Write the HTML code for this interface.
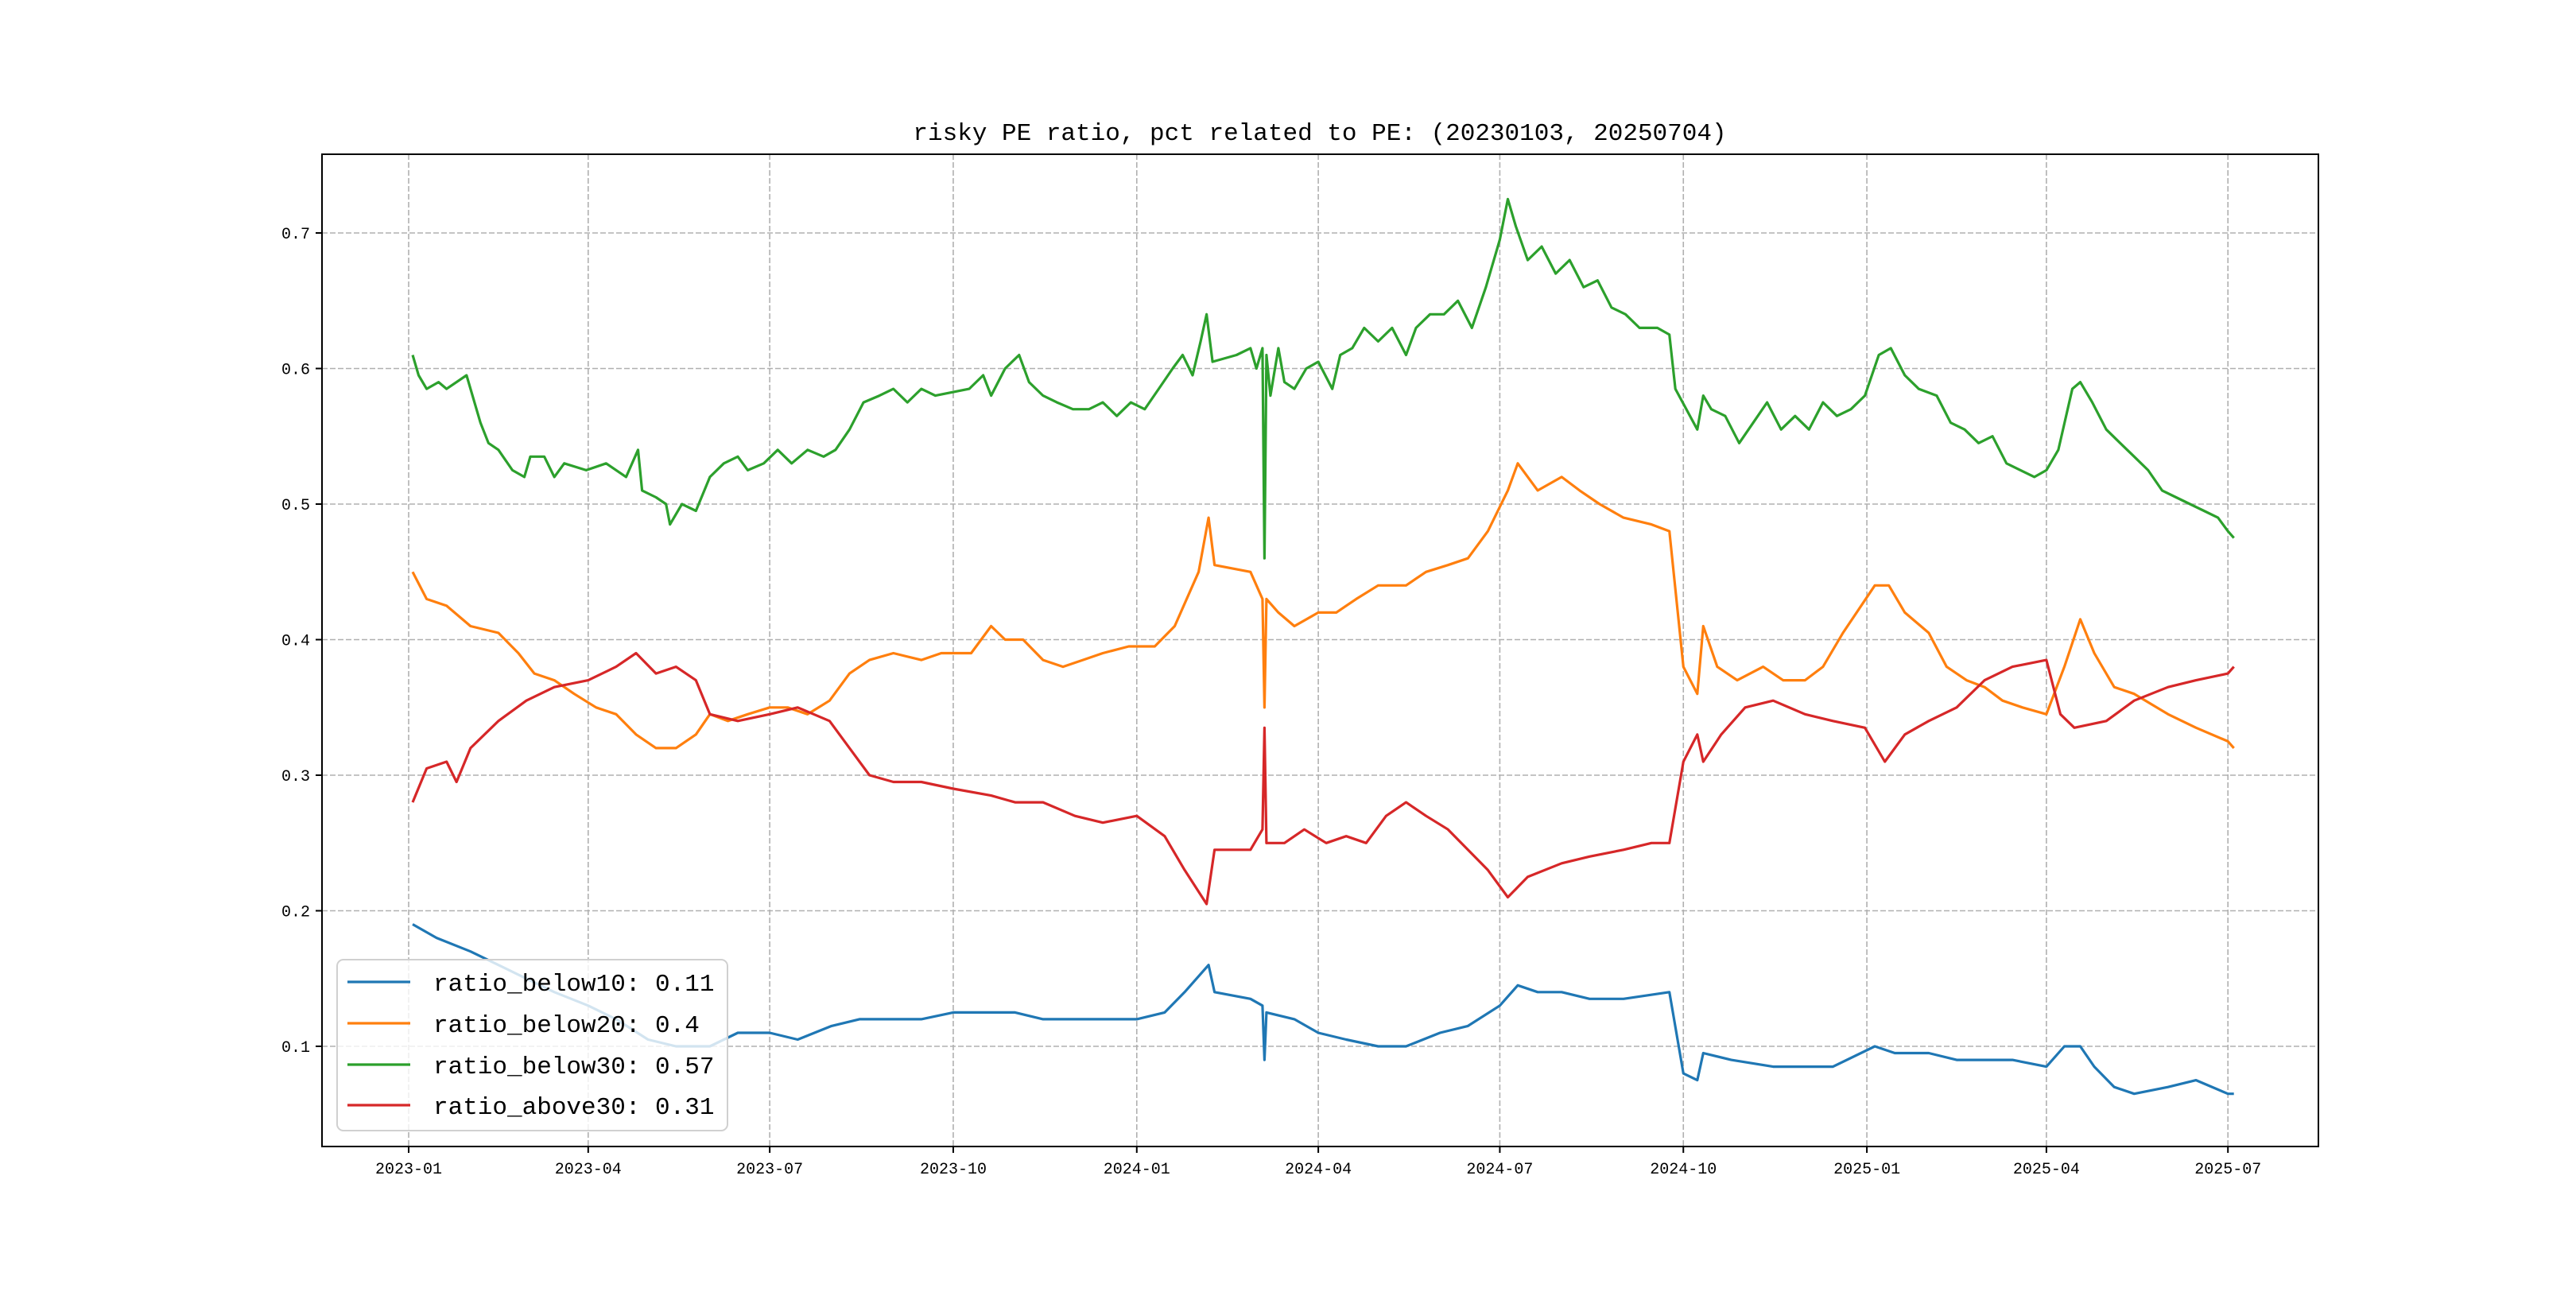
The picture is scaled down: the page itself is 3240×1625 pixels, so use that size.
<!DOCTYPE html>
<html><head><meta charset="utf-8">
<style>
html,body{margin:0;padding:0;background:#fff;}
svg text{font-family:"Liberation Mono","Noto Sans CJK SC",monospace;}
</style></head>
<body>
<svg id="chart" width="3240" height="1620" viewBox="0 0 3240 1620" xmlns="http://www.w3.org/2000/svg">
<rect x="0" y="0" width="3240" height="1620" fill="#fff"/>
<text x="1660" y="176" font-size="31" text-anchor="middle" fill="#000">risky PE ratio, pct related to PE: (20230103, 20250704)</text>
<g id="grid"></g>
<g id="series"></g>
<rect x="405" y="194" width="2511" height="1248" fill="none" stroke="#000" stroke-width="2"/>
<g id="ticks"></g>
<g id="legend"></g>
</svg>
<script>
const xTickLabels = ["2023-01","2023-04","2023-07","2023-10","2024-01","2024-04","2024-07","2024-10","2025-01","2025-04","2025-07"];
const yTickValues = [0.1,0.2,0.3,0.4,0.5,0.6,0.7];
const yTickLabels = ["0.1","0.2","0.3","0.4","0.5","0.6","0.7"];
const seriesNames = ["ratio_below10: 0.11","ratio_below20: 0.4","ratio_below30: 0.57","ratio_above30: 0.31"];
const greenDates = ["2023-01-03","2023-01-06","2023-01-10","2023-01-16","2023-01-20","2023-01-30","2023-02-06","2023-02-10","2023-02-15","2023-02-22","2023-02-28","2023-03-03","2023-03-10","2023-03-15","2023-03-20","2023-03-31","2023-04-10","2023-04-20","2023-04-26","2023-04-28","2023-05-05","2023-05-10","2023-05-12","2023-05-18","2023-05-25","2023-06-01","2023-06-08","2023-06-15","2023-06-20","2023-06-28","2023-07-05","2023-07-12","2023-07-20","2023-07-28","2023-08-03","2023-08-10","2023-08-17","2023-08-25","2023-09-01","2023-09-08","2023-09-15","2023-09-22","2023-10-09","2023-10-16","2023-10-20","2023-10-27","2023-11-03","2023-11-08","2023-11-15","2023-11-22","2023-11-30","2023-12-08","2023-12-15","2023-12-22","2023-12-29","2024-01-05","2024-01-12","2024-01-19","2024-01-24","2024-01-29","2024-02-02","2024-02-05","2024-02-08","2024-02-20","2024-02-27","2024-03-01","2024-03-04","2024-03-05","2024-03-06","2024-03-08","2024-03-12","2024-03-15","2024-03-20","2024-03-26","2024-04-01","2024-04-08","2024-04-12","2024-04-18","2024-04-24","2024-05-01","2024-05-08","2024-05-15","2024-05-20","2024-05-27","2024-06-03","2024-06-10","2024-06-17","2024-06-24","2024-07-01","2024-07-05","2024-07-09","2024-07-15","2024-07-22","2024-07-29","2024-08-05","2024-08-12","2024-08-19","2024-08-26","2024-09-02","2024-09-09","2024-09-18","2024-09-24","2024-09-27","2024-10-08","2024-10-11","2024-10-15","2024-10-22","2024-10-29","2024-11-05","2024-11-12","2024-11-19","2024-11-26","2024-12-03","2024-12-10","2024-12-17","2024-12-24","2024-12-31","2025-01-07","2025-01-13","2025-01-20","2025-01-27","2025-02-05","2025-02-12","2025-02-19","2025-02-26","2025-03-05","2025-03-12","2025-03-19","2025-03-26","2025-04-01","2025-04-07","2025-04-14","2025-04-18","2025-04-24","2025-05-01","2025-05-08","2025-05-15","2025-05-22","2025-05-29","2025-06-05","2025-06-12","2025-06-19","2025-06-26","2025-07-01","2025-07-04"];
const greenValues = [0.61,0.595,0.585,0.59,0.585,0.595,0.56,0.545,0.54,0.525,0.52,0.535,0.535,0.52,0.53,0.525,0.53,0.52,0.54,0.51,0.505,0.5,0.485,0.5,0.495,0.52,0.53,0.535,0.525,0.53,0.54,0.53,0.54,0.535,0.54,0.555,0.575,0.58,0.585,0.575,0.585,0.58,0.585,0.595,0.58,0.6,0.61,0.59,0.58,0.575,0.57,0.57,0.575,0.565,0.575,0.57,0.585,0.6,0.61,0.595,0.62,0.64,0.605,0.61,0.615,0.6,0.615,0.46,0.61,0.58,0.615,0.59,0.585,0.6,0.605,0.585,0.61,0.615,0.63,0.62,0.63,0.61,0.63,0.64,0.64,0.65,0.63,0.66,0.695,0.725,0.705,0.68,0.69,0.67,0.68,0.66,0.665,0.645,0.64,0.63,0.63,0.625,0.585,0.555,0.58,0.57,0.565,0.545,0.56,0.575,0.555,0.565,0.555,0.575,0.565,0.57,0.58,0.61,0.615,0.595,0.585,0.58,0.56,0.555,0.545,0.55,0.53,0.525,0.52,0.525,0.54,0.585,0.59,0.575,0.555,0.545,0.535,0.525,0.51,0.505,0.5,0.495,0.49,0.48,0.475];
const orangeDates = ["2023-01-03","2023-01-10","2023-01-20","2023-02-01","2023-02-15","2023-02-25","2023-03-05","2023-03-15","2023-03-25","2023-04-05","2023-04-15","2023-04-25","2023-05-05","2023-05-15","2023-05-25","2023-06-01","2023-06-10","2023-06-20","2023-07-01","2023-07-10","2023-07-20","2023-07-31","2023-08-10","2023-08-20","2023-09-01","2023-09-15","2023-09-25","2023-10-10","2023-10-20","2023-10-27","2023-11-05","2023-11-15","2023-11-25","2023-12-05","2023-12-15","2023-12-28","2024-01-10","2024-01-20","2024-02-01","2024-02-06","2024-02-09","2024-02-27","2024-03-04","2024-03-05","2024-03-06","2024-03-12","2024-03-20","2024-04-01","2024-04-10","2024-04-20","2024-05-01","2024-05-15","2024-05-25","2024-06-05","2024-06-15","2024-06-25","2024-07-05","2024-07-10","2024-07-20","2024-08-01","2024-08-10","2024-08-20","2024-09-01","2024-09-15","2024-09-24","2024-10-01","2024-10-08","2024-10-11","2024-10-18","2024-10-28","2024-11-10","2024-11-20","2024-12-01","2024-12-10","2024-12-20","2025-01-05","2025-01-12","2025-01-20","2025-02-01","2025-02-10","2025-02-20","2025-03-01","2025-03-10","2025-03-20","2025-04-01","2025-04-10","2025-04-18","2025-04-25","2025-05-05","2025-05-15","2025-06-01","2025-06-15","2025-07-01","2025-07-04"];
const orangeValues = [0.45,0.43,0.425,0.41,0.405,0.39,0.375,0.37,0.36,0.35,0.345,0.33,0.32,0.32,0.33,0.345,0.34,0.345,0.35,0.35,0.345,0.355,0.375,0.385,0.39,0.385,0.39,0.39,0.41,0.4,0.4,0.385,0.38,0.385,0.39,0.395,0.395,0.41,0.45,0.49,0.455,0.45,0.43,0.35,0.43,0.42,0.41,0.42,0.42,0.43,0.44,0.44,0.45,0.455,0.46,0.48,0.51,0.53,0.51,0.52,0.51,0.5,0.49,0.485,0.48,0.38,0.36,0.41,0.38,0.37,0.38,0.37,0.37,0.38,0.405,0.44,0.44,0.42,0.405,0.38,0.37,0.365,0.355,0.35,0.345,0.38,0.415,0.39,0.365,0.36,0.345,0.335,0.325,0.32];
const redDates = ["2023-01-03","2023-01-10","2023-01-20","2023-01-25","2023-02-01","2023-02-15","2023-03-01","2023-03-15","2023-04-01","2023-04-15","2023-04-25","2023-05-05","2023-05-15","2023-05-25","2023-06-01","2023-06-15","2023-07-01","2023-07-15","2023-07-31","2023-08-10","2023-08-20","2023-09-01","2023-09-15","2023-10-01","2023-10-20","2023-11-01","2023-11-15","2023-12-01","2023-12-15","2024-01-01","2024-01-15","2024-01-25","2024-02-05","2024-02-09","2024-02-27","2024-03-04","2024-03-05","2024-03-06","2024-03-15","2024-03-25","2024-04-05","2024-04-15","2024-04-25","2024-05-05","2024-05-15","2024-05-25","2024-06-05","2024-06-15","2024-06-25","2024-07-05","2024-07-15","2024-08-01","2024-08-15","2024-09-01","2024-09-15","2024-09-24","2024-10-01","2024-10-08","2024-10-11","2024-10-20","2024-11-01","2024-11-15","2024-12-01","2024-12-15","2024-12-31","2025-01-10","2025-01-20","2025-02-01","2025-02-15","2025-03-01","2025-03-15","2025-04-01","2025-04-08","2025-04-15","2025-05-01","2025-05-15","2025-06-01","2025-06-15","2025-07-01","2025-07-04"];
const redValues = [0.28,0.305,0.31,0.295,0.32,0.34,0.355,0.365,0.37,0.38,0.39,0.375,0.38,0.37,0.345,0.34,0.345,0.35,0.34,0.32,0.3,0.295,0.295,0.29,0.285,0.28,0.28,0.27,0.265,0.27,0.255,0.23,0.205,0.245,0.245,0.26,0.335,0.25,0.25,0.26,0.25,0.255,0.25,0.27,0.28,0.27,0.26,0.245,0.23,0.21,0.225,0.235,0.24,0.245,0.25,0.25,0.31,0.33,0.31,0.33,0.35,0.355,0.345,0.34,0.335,0.31,0.33,0.34,0.35,0.37,0.38,0.385,0.345,0.335,0.34,0.355,0.365,0.37,0.375,0.38];
const blueDates = ["2023-01-03","2023-01-15","2023-02-01","2023-02-15","2023-03-01","2023-03-15","2023-04-01","2023-04-15","2023-05-01","2023-05-15","2023-06-01","2023-06-15","2023-07-01","2023-07-15","2023-08-01","2023-08-15","2023-09-01","2023-09-15","2023-10-01","2023-10-15","2023-11-01","2023-11-15","2023-12-01","2023-12-15","2024-01-01","2024-01-15","2024-01-25","2024-02-06","2024-02-09","2024-02-27","2024-03-04","2024-03-05","2024-03-06","2024-03-20","2024-04-01","2024-04-15","2024-05-01","2024-05-15","2024-06-01","2024-06-15","2024-07-01","2024-07-10","2024-07-20","2024-08-01","2024-08-15","2024-09-01","2024-09-24","2024-10-01","2024-10-08","2024-10-11","2024-10-25","2024-11-15","2024-12-01","2024-12-15","2025-01-05","2025-01-15","2025-02-01","2025-02-15","2025-03-01","2025-03-15","2025-04-01","2025-04-10","2025-04-18","2025-04-25","2025-05-05","2025-05-15","2025-06-01","2025-06-15","2025-07-01","2025-07-04"];
const blueValues = [0.19,0.18,0.17,0.16,0.15,0.14,0.13,0.12,0.105,0.1,0.1,0.11,0.11,0.105,0.115,0.12,0.12,0.12,0.125,0.125,0.125,0.12,0.12,0.12,0.12,0.125,0.14,0.16,0.14,0.135,0.13,0.09,0.125,0.12,0.11,0.105,0.1,0.1,0.11,0.115,0.13,0.145,0.14,0.14,0.135,0.135,0.14,0.08,0.075,0.095,0.09,0.085,0.085,0.085,0.1,0.095,0.095,0.09,0.09,0.09,0.085,0.1,0.1,0.085,0.07,0.065,0.07,0.075,0.065,0.065];

const NS = "http://www.w3.org/2000/svg";
const T0 = Date.UTC(2023,0,1);
function xScale(dateStr){const p=dateStr.split("-");const t=Date.UTC(+p[0],+p[1]-1,+p[2]);return 514+(t-T0)/86400000*2.509;}
function yScale(v){return 634-(v-0.5)*1705;}
function mk(tag,attrs,parent){const e=document.createElementNS(NS,tag);for(const k in attrs)e.setAttribute(k,attrs[k]);parent.appendChild(e);return e;}

const grid=document.getElementById("grid"), ticks=document.getElementById("ticks");
xTickLabels.forEach(function(lab){
  const x=xScale(lab+"-01");
  const g=mk("line",{x1:x,x2:x,y1:194,y2:1442,stroke:"#b0b0b0","stroke-width":1.6,"stroke-dasharray":"7,3"},grid);
  
  
  mk("line",{x1:x,x2:x,y1:1442,y2:1450,stroke:"#000","stroke-width":2},ticks);
  const t=mk("text",{x:x,y:1476,"font-size":20,"text-anchor":"middle",fill:"#000"},ticks);
  t.textContent=lab;
  
  
});
yTickValues.forEach(function(v,i){
  const y=yScale(v);
  const g=mk("line",{x1:405,x2:2916,y1:y,y2:y,stroke:"#b0b0b0","stroke-width":1.6,"stroke-dasharray":"7,3"},grid);
  
  
  mk("line",{x1:397,x2:405,y1:y,y2:y,stroke:"#000","stroke-width":2},ticks);
  const t=mk("text",{x:390,y:y+7,"font-size":20,"text-anchor":"end",fill:"#000"},ticks);
  t.textContent=yTickLabels[i];
  
  
});

const colors=["#1f77b4","#ff7f0e","#2ca02c","#d62728"];
const allDates=[blueDates,orangeDates,greenDates,redDates];
const allVals=[blueValues,orangeValues,greenValues,redValues];
const lineNames=["series-below10","series-below20","series-below30","series-above30"];
const series=document.getElementById("series");
for(let i=0;i<4;i++){
  const pts=allDates[i].map(function(d,j){return xScale(d).toFixed(1)+","+yScale(allVals[i][j]).toFixed(1);}).join(" ");
  const pl=mk("polyline",{points:pts,fill:"none",stroke:colors[i],"stroke-width":3.2,"stroke-linejoin":"round"},series);
  
  
}

const legend=document.getElementById("legend");


mk("rect",{x:424,y:1207,width:491,height:215,rx:8,fill:"#fff","fill-opacity":0.8,stroke:"#d0d0d0","stroke-width":2},legend);
const rowY=[1235,1287,1339,1390];
for(let i=0;i<4;i++){
  const ln=mk("line",{x1:437,x2:516,y1:rowY[i],y2:rowY[i],stroke:colors[i],"stroke-width":3.2},legend);
  
  
  const t=mk("text",{x:545,y:rowY[i]+11,"font-size":31,fill:"#000"},legend);
  t.textContent=seriesNames[i];
  
  
}
</script>
</body></html>
